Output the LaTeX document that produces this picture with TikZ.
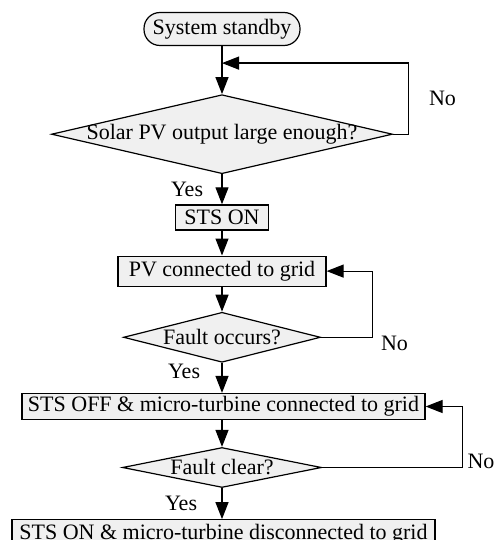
\documentclass[tikz,border=0pt]{standalone}
\usepackage{fontspec}
\setmainfont{Liberation Serif}
\usetikzlibrary{arrows.meta,positioning,shapes.geometric}
\definecolor{boxfill}{RGB}{240,240,240}
\tikzset{
  font=\fontsize{22}{26}\selectfont,
  term/.style={
    draw,
    fill=boxfill,
    line width=1.2pt,
    rounded corners=16pt,
    minimum width=156pt,
    minimum height=33pt,
    inner sep=3pt
  },
  box/.style={
    draw,
    fill=boxfill,
    line width=1.2pt,
    align=center,
    inner sep=3pt
  },
  decision/.style={
    draw,
    fill=boxfill,
    line width=1.2pt,
    diamond,
    inner sep=0pt
  },
  arrow/.style={-{Triangle[length=17pt,width=13pt]}, line width=1.2pt}
}
\begin{document}
\begin{tikzpicture}[x=1pt,y=1pt]
\useasboundingbox (0,0) rectangle (495,-540);

\node[term] (standby) at (222,-29) {System standby};
\coordinate[below=17pt of standby] (join);
\node[decision, below=48pt of standby, minimum width=341pt, minimum height=79pt,
  label={center:Solar PV output large enough?}] (pvout) {};
\node[box, below=30pt of pvout, minimum width=93pt, minimum height=25pt] (stson) {STS ON};
\node[box, below=25pt of stson, minimum width=208pt, minimum height=30pt] (pvgrid) {PV connected to grid};
\node[decision, below=25pt of pvgrid, minimum width=197pt, minimum height=50pt,
  label={center:Fault occurs?}] (occurs) {};
\node[box, below=30pt of occurs, minimum width=403pt, minimum height=24pt, xshift=1.5pt] (mton) {STS OFF \& micro-turbine connected to grid};
\node[decision, below=30pt of occurs.south, yshift=-54pt, minimum width=199pt, minimum height=40pt,
  label={center:Fault clear?}] (clear) {};
\node[box, below=31pt of clear, minimum width=423pt, minimum height=30pt, xshift=1.5pt] (mtoff) {STS ON \& micro-turbine disconnected to grid};

% Main flow
\draw[arrow] (standby) -- (pvout);
\draw[arrow] (pvout) -- node[left=15pt]{Yes} (stson);
\draw[arrow] (stson) -- (pvgrid);
\draw[arrow] (pvgrid) -- (occurs);
\draw[arrow] (occurs) -- node[left=18pt, pos=0.3]{Yes} (occurs |- mton.north);
\draw[arrow] (occurs |- mton.south) -- (clear);
\draw[arrow] (clear) -- node[left=21pt]{Yes} (clear |- mtoff.north);

% Loop arrows
\draw[arrow] (pvout.east) -- ++(15pt,0) |- node[right=17pt, pos=0.25]{No} (join);
\draw[arrow] (occurs.east) -- ++(51pt,0) node[right, xshift=5pt, yshift=-6pt]{No} |- (pvgrid.east);
\draw[arrow] (clear.east) -- ++(140pt,0) node[right, xshift=1.5pt, yshift=6pt]{No} |- (mton.east);

\end{tikzpicture}
\end{document}
